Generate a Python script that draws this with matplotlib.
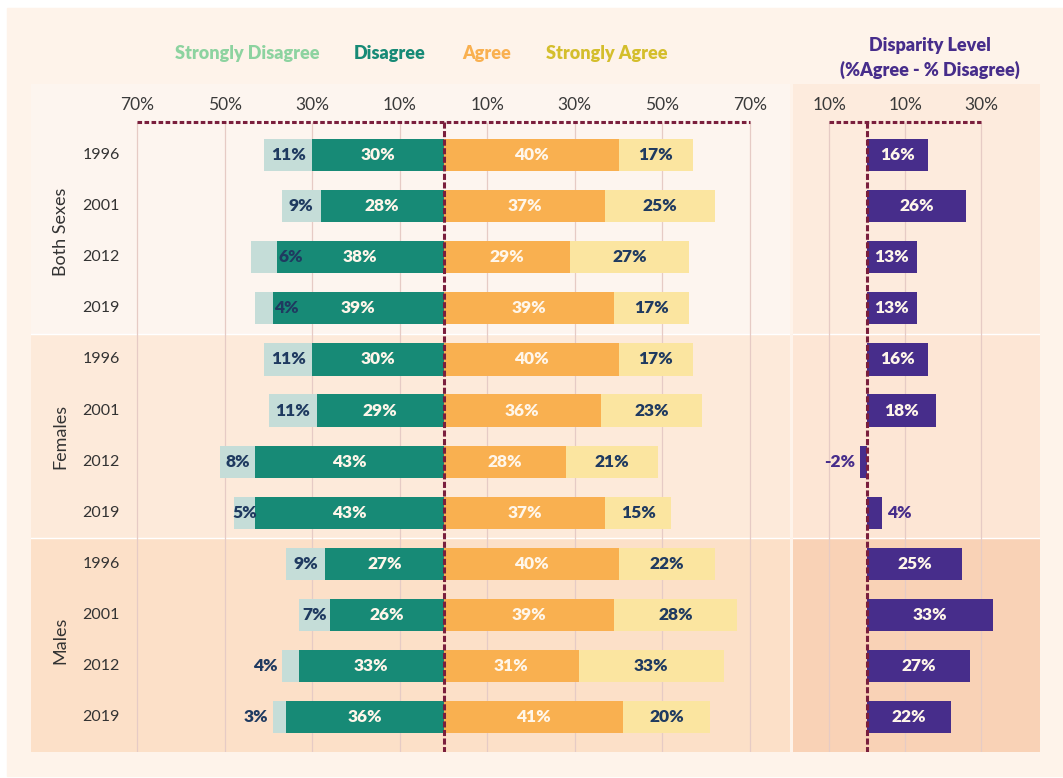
import numpy as np
import matplotlib
matplotlib.use("Agg")
import matplotlib.pyplot as plt
from matplotlib.patches import Rectangle

plt.rcParams['font.family'] = ['Lato', 'DejaVu Sans']

# datos (en %), filas de arriba a abajo
grupos = ['Both Sexes', 'Females', 'Males']
anios = ['1996', '2001', '2012', '2019'] * 3
muy_desacuerdo = [11, 9, 6, 4, 11, 11, 8, 5, 9, 7, 4, 3]
desacuerdo = [30, 28, 38, 39, 30, 29, 43, 43, 27, 26, 33, 36]
acuerdo = [40, 37, 29, 39, 40, 36, 28, 37, 40, 39, 31, 41]
muy_acuerdo = [17, 25, 27, 17, 17, 23, 21, 15, 22, 28, 33, 20]
disparidad = [16, 26, 13, 13, 16, 18, -2, 4, 25, 33, 27, 22]
ticks_main = [-70, -50, -30, -10, 10, 30, 50, 70]
ticks_disp = [-10, 10, 30]

# donde va la etiqueta de "strongly disagree"
pos_sd = ['mid', 'mid', 'in', 'in', 'mid', 'mid', 'mid', 'mid', 'mid', 'mid', 'out', 'out']

c_sd, c_d, c_a, c_sa = '#C5DDD8', '#178A76', '#F9B050', '#FBE5A0'
c_disp = '#472D8B'
c_linea = '#7A1F3D'
c_grid = '#E6CBC5'
c_oscuro = '#1F3A60'
c_claro = '#FFF6EA'

W, H = 1063, 778


def caja(x0, y0, x1, y1):
    return [x0 / W, 1 - y1 / H, (x1 - x0) / W, (y1 - y0) / H]


fig = plt.figure(figsize=(W / 100, H / 100), dpi=100, facecolor='white')
fig.patches.append(Rectangle((7 / W, 2 / H), (W - 7) / W, (H - 10) / H,
                             transform=fig.transFigure, color='#FEF3EA', zorder=-10))

ax = fig.add_axes(caja(31, 84, 790, 752))
ax2 = fig.add_axes(caja(793, 84, 1040, 752))

n = len(anios)
y = np.arange(n)
y_top, y_bot = -1.39, 11.68
y_linea = -0.65
y_ticks = -0.98
alto = 0.63

bandas_main = ['#FDF5EF', '#FDEADA', '#FCE0C8']
bandas_disp = ['#FDEBDD', '#FDE6D5', '#F9D2B6']
limites = [(y_top, 3.5), (3.5, 7.5), (7.5, y_bot)]

for a, bandas in [(ax, bandas_main), (ax2, bandas_disp)]:
    for (b0, b1), col in zip(limites, bandas):
        a.axhspan(b0, b1, color=col, zorder=0, lw=0)
    a.axhline(3.5, color='white', lw=1, zorder=0.5)
    a.axhline(7.5, color='white', lw=1, zorder=0.5)
    a.set_ylim(y_bot, y_top)
    a.axis('off')

# panel principal
ax.set_xlim(-94.3, 79.2)
for t in ticks_main:
    ax.vlines(t, y_linea, y_bot, color=c_grid, lw=0.9, zorder=1)
    ax.text(t, y_ticks, f"{abs(t)}%", ha='center', va='center', fontsize=12.5, color='#3a3a3a')
ax.hlines(y_linea, -70, 70, color=c_linea, lw=2.2, linestyles=(0, (1.5, 0.8)), zorder=4)

d = np.array(desacuerdo)
sd = np.array(muy_desacuerdo)
ag = np.array(acuerdo)
sa = np.array(muy_acuerdo)

ax.barh(y, -d, height=alto, color=c_d, zorder=2)
ax.barh(y, -sd, left=-d, height=alto, color=c_sd, zorder=2)
ax.barh(y, ag, height=alto, color=c_a, zorder=2)
ax.barh(y, sa, left=ag, height=alto, color=c_sa, zorder=2)
ax.vlines(0, y_linea, y_bot, color=c_linea, lw=2.2, linestyles=(0, (2, 0.8)), zorder=4)

fs = 12.5
for i in range(n):
    ax.text(-d[i] / 2, i, f"{d[i]}%", ha='center', va='center', color=c_claro,
            fontsize=fs, fontweight='heavy', zorder=5)
    ax.text(ag[i] / 2, i, f"{ag[i]}%", ha='center', va='center', color=c_claro,
            fontsize=fs, fontweight='heavy', zorder=5)
    ax.text(ag[i] + sa[i] / 2, i, f"{sa[i]}%", ha='center', va='center', color=c_oscuro,
            fontsize=fs, fontweight='heavy', zorder=5)
    if pos_sd[i] == 'mid':
        ax.text(-d[i] - sd[i] / 2, i, f"{sd[i]}%", ha='center', va='center', color=c_oscuro,
                fontsize=fs, fontweight='heavy', zorder=5)
    elif pos_sd[i] == 'in':
        ax.text(-d[i] + 0.3, i, f"{sd[i]}%", ha='left', va='center', color=c_oscuro,
                fontsize=fs, fontweight='heavy', zorder=5)
    else:
        ax.text(-d[i] - sd[i] - 1.0, i, f"{sd[i]}%", ha='right', va='center', color=c_oscuro,
                fontsize=fs, fontweight='heavy', zorder=5)
    ax.text(-78.3, i, anios[i], ha='center', va='center', fontsize=11.5, color='#333333')

for k, g in enumerate(grupos):
    ax.text(-87.5, 1.5 + 4 * k, g, rotation=90, ha='center', va='center', fontsize=13,
            color='#333333')

# panel de disparidad
ax2.set_xlim(-19.5, 45.5)
for t in ticks_disp:
    ax2.vlines(t, y_linea, y_bot, color=c_grid, lw=0.9, zorder=1)
    ax2.text(t, y_ticks, f"{abs(t)}%", ha='center', va='center', fontsize=12.5, color='#3a3a3a')
ax2.hlines(y_linea, -10, 30, color=c_linea, lw=2.2, linestyles=(0, (1.5, 0.8)), zorder=4)

dis = np.array(disparidad)
ax2.barh(y, dis, height=alto, color=c_disp, zorder=2)
ax2.vlines(0, y_linea, y_bot, color=c_linea, lw=2.2, linestyles=(0, (2, 0.8)), zorder=4)
for i in range(n):
    if dis[i] >= 8:
        ax2.text(dis[i] / 2, i, f"{dis[i]}%", ha='center', va='center', color=c_claro,
                 fontsize=fs, fontweight='heavy', zorder=5)
    elif dis[i] >= 0:
        ax2.text(dis[i] + 1.2, i, f"{dis[i]}%", ha='left', va='center', color=c_disp,
                 fontsize=fs, fontweight='heavy', zorder=5)
    else:
        ax2.text(dis[i] - 1.2, i, f"{dis[i]}%", ha='right', va='center', color=c_disp,
                 fontsize=fs, fontweight='heavy', zorder=5)

# leyenda y titulo
leyenda = [('Strongly Disagree', '#8DD3A0', 247), ('Disagree', c_d, 390),
           ('Agree', c_a, 487), ('Strongly Agree', '#D4BE2C', 607)]
for txt, col, xp in leyenda:
    fig.text(xp / W, 1 - 53 / H, txt, ha='center', va='center', color=col,
             fontsize=13, fontweight='heavy')
fig.text(930 / W, 1 - 46 / H, 'Disparity Level', ha='center', va='center', color=c_disp,
         fontsize=13, fontweight='heavy')
fig.text(930 / W, 1 - 70 / H, '(%Agree - % Disagree)', ha='center', va='center', color=c_disp,
         fontsize=13, fontweight='heavy')

fig.savefig('out.png', dpi=100, facecolor=fig.get_facecolor())
